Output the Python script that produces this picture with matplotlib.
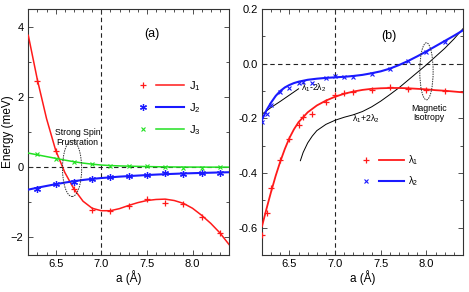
import matplotlib
matplotlib.use("Agg")
import matplotlib.pyplot as plt
from matplotlib.legend_handler import HandlerTuple
from matplotlib.patches import Ellipse
from matplotlib.ticker import MultipleLocator, FormatStrFormatter

plt.rcParams['font.family'] = ['Liberation Sans', 'DejaVu Sans']
plt.rcParams['mathtext.fontset'] = 'custom'
plt.rcParams['mathtext.rm'] = 'Liberation Sans'
plt.rcParams['mathtext.it'] = 'Liberation Sans:italic'

# ---------------- panel (a) data ----------------
a_pts = [6.3, 6.5, 6.7, 6.9, 7.1, 7.3, 7.5, 7.7, 7.9, 8.1, 8.3]
J1_pts = [2.45, 0.45, -0.63, -1.22, -1.24, -1.11, -0.92, -1.03, -1.05, -1.41, -1.88]
J2_pts = [-0.61, -0.47, -0.42, -0.34, -0.28, -0.25, -0.23, -0.18, -0.19, -0.16, -0.18]
J3_pts = [0.36, 0.24, 0.14, 0.085, 0.04, 0.03, 0.03, 0.01, -0.02, -0.02, 0.0]

a_fit = [6.2, 6.3, 6.4, 6.5, 6.6, 6.7, 6.8, 6.9, 7.0, 7.1, 7.2, 7.3,
         7.4, 7.5, 7.6, 7.7, 7.8, 7.9, 8.0, 8.1, 8.2, 8.3, 8.4]
J1_fit = [3.75, 2.48, 1.38, 0.48, -0.15, -0.62, -0.97, -1.17, -1.24, -1.24, -1.18, -1.09,
          -1.01, -0.95, -0.92, -0.91, -0.95, -1.03, -1.17, -1.37, -1.6, -1.87, -2.2]
J2_fit = [-0.64, -0.585, -0.535, -0.485, -0.44, -0.4, -0.365, -0.335, -0.31, -0.29, -0.27, -0.255,
          -0.24, -0.225, -0.212, -0.2, -0.19, -0.18, -0.172, -0.165, -0.158, -0.151, -0.145]
J3_fit = [0.4, 0.35, 0.3, 0.25, 0.2, 0.155, 0.115, 0.085, 0.06, 0.045, 0.035, 0.028,
          0.022, 0.017, 0.012, 0.008, 0.005, 0.003, 0.002, 0.001, 0.0, 0.0, 0.0]

# ---------------- panel (b) data ----------------
b_pts = [6.2, 6.25, 6.3, 6.4, 6.5, 6.6, 6.65, 6.75, 6.9, 7.0, 7.1, 7.2, 7.4, 7.6, 7.8, 8.0, 8.2]
lam1_pts = [-0.627, -0.545, -0.455, -0.352, -0.274, -0.226, -0.195, -0.183, -0.139, -0.115,
            -0.109, -0.105, -0.095, -0.087, -0.094, -0.095, -0.099]
lam2_pts = [-0.215, -0.183, -0.153, -0.105, -0.089, -0.069, -0.068, -0.069, -0.054, -0.045,
            -0.047, -0.048, -0.036, -0.021, 0.01, 0.043, 0.08]

b_fit = [6.2, 6.25, 6.3, 6.35, 6.4, 6.45, 6.5, 6.55, 6.6, 6.7, 6.8, 6.9, 7.0, 7.1,
         7.2, 7.3, 7.4, 7.5, 7.6, 7.7, 7.8, 7.9, 8.0, 8.1, 8.2, 8.3, 8.4]
lam1_fit = [-0.595, -0.53, -0.468, -0.41, -0.358, -0.312, -0.272, -0.24, -0.214, -0.178,
            -0.153, -0.135, -0.121, -0.11, -0.102, -0.096, -0.092, -0.09, -0.089, -0.089,
            -0.09, -0.092, -0.094, -0.097, -0.099, -0.102, -0.105]
lam2_fit = [-0.205, -0.17, -0.142, -0.118, -0.1, -0.087, -0.078, -0.071, -0.066, -0.059,
            -0.055, -0.052, -0.05, -0.048, -0.045, -0.041, -0.035, -0.028, -0.018, -0.005,
            0.01, 0.027, 0.045, 0.064, 0.083, 0.102, 0.122]

minus_x = [6.2, 6.3, 6.4, 6.5, 6.6]
minus_y = [-0.185, -0.16, -0.138, -0.115, -0.092]
plus_x = [6.62, 6.65, 6.7, 6.75, 6.8, 6.9, 7.0, 7.1, 7.2, 7.3, 7.4, 7.5, 7.6, 7.7,
          7.8, 7.9, 8.0, 8.1, 8.2, 8.3, 8.4]
plus_y = [-0.355, -0.325, -0.29, -0.265, -0.245, -0.222, -0.207, -0.196, -0.187, -0.175,
          -0.158, -0.137, -0.113, -0.088, -0.06, -0.032, -0.004, 0.026, 0.056, 0.09, 0.128]

RED, BLUE, GREEN = '#ff1a1a', '#1a1aff', '#22e022'
TICK_FS = 8

fig = plt.figure(figsize=(4.69, 2.92), dpi=100)
axA = fig.add_axes([28.3 / 469, 37 / 292, 200.7 / 469, 246 / 292])
axB = fig.add_axes([262 / 469, 37 / 292, 201 / 469, 246 / 292])


def style(ax):
    ax.set_xlim(6.2, 8.4)
    ax.xaxis.set_major_locator(MultipleLocator(0.5))
    ax.xaxis.set_minor_locator(MultipleLocator(0.1))
    ax.tick_params(which='both', direction='in', top=True, right=True,
                   labelsize=TICK_FS, width=0.6, color='#333333', pad=3)
    ax.tick_params(which='major', length=3.5)
    ax.tick_params(which='minor', length=2)
    for s in ax.spines.values():
        s.set_linewidth(0.8)
        s.set_color('#333333')
    ax.axvline(7.0, color='#222222', ls=(0, (4, 3)), lw=0.8, zorder=1)
    ax.axhline(0.0, color='#222222', ls=(0, (4, 3)), lw=0.8, zorder=1)
    ax.set_xlabel('a (Å)', fontsize=8.5, labelpad=1)


# ---------------- panel (a) ----------------
style(axA)
axA.set_ylim(-2.5, 4.5)
axA.set_yticks([-2, 0, 2, 4])
axA.yaxis.set_minor_locator(MultipleLocator(1))
axA.tick_params(axis='y', pad=3.5)
axA.set_ylabel('Energy (meV)', fontsize=8.5)
axA.yaxis.set_label_coords(-0.072, 0.5)

lJ1, = axA.plot(a_fit, J1_fit, color=RED, lw=1.1, zorder=3)
lJ2, = axA.plot(a_fit, J2_fit, color=BLUE, lw=1.5, zorder=3)
lJ3, = axA.plot(a_fit, J3_fit, color=GREEN, lw=1.1, zorder=3)
mJ1, = axA.plot(a_pts, J1_pts, ls='none', marker='+', ms=5, mew=0.9, color=RED, zorder=4)
mJ2, = axA.plot(a_pts, J2_pts, ls='none', marker=(6, 2, 0), ms=5, mew=0.9, color=BLUE, zorder=4)
mJ3, = axA.plot(a_pts, J3_pts, ls='none', marker='x', ms=3.5, mew=0.8, color=GREEN, zorder=4)

axA.text(7.56, 3.8, '(a)', fontsize=9, ha='center', va='center')
axA.text(6.74, 0.85, 'Strong Spin\nFrustration', fontsize=6.3, ha='center', va='center',
         linespacing=1.1)
axA.add_patch(Ellipse((6.68, -0.04), 0.21, 1.59, fill=False, ls=(0, (1.5, 1)),
                      lw=0.7, ec='#333333', zorder=5))

axA.legend([(mJ1, lJ1), (mJ2, lJ2), (mJ3, lJ3)],
           ['J$_1$', 'J$_2$', 'J$_3$'],
           handler_map={tuple: HandlerTuple(ndivide=None, pad=0.0)},
           loc='upper left', bbox_to_anchor=(0.50, 0.715), frameon=False,
           handlelength=5.0, handletextpad=0.4, labelspacing=0.75,
           fontsize=8, borderpad=0, borderaxespad=0)

# ---------------- panel (b) ----------------
style(axB)
axB.set_ylim(-0.7, 0.2)
axB.yaxis.set_major_locator(MultipleLocator(0.2))
axB.yaxis.set_minor_locator(MultipleLocator(0.1))
axB.yaxis.set_major_formatter(FormatStrFormatter('%.1f'))

l1, = axB.plot(b_fit, lam1_fit, color=RED, lw=1.3, zorder=3)
l2, = axB.plot(b_fit, lam2_fit, color=BLUE, lw=1.5, zorder=3)
m1, = axB.plot(b_pts, lam1_pts, ls='none', marker='+', ms=5, mew=0.9, color=RED, zorder=4)
m2, = axB.plot(b_pts, lam2_pts, ls='none', marker='x', ms=3.2, mew=0.8, color=BLUE, zorder=4)
axB.plot(minus_x, minus_y, color='black', lw=0.7, zorder=2)
axB.plot(plus_x, plus_y, color='black', lw=0.7, zorder=2)

axB.text(7.585, 0.1, '(b)', fontsize=9, ha='center', va='center')
axB.text(6.63, -0.088, 'λ$_1$-2λ$_2$', fontsize=6.3, ha='left', va='center')
axB.text(7.19, -0.2, 'λ$_1$+2λ$_2$', fontsize=6.3, ha='left', va='center')
axB.text(8.03, -0.18, 'Magnetic\nIsotropy', fontsize=6.3, ha='center', va='center',
         linespacing=1.1)
axB.add_patch(Ellipse((8.0, -0.028), 0.146, 0.209, fill=False, ls=(0, (1.5, 1)),
                      lw=0.7, ec='#333333', zorder=5))

axB.legend([(m1, l1), (m2, l2)], ['λ$_1$', 'λ$_2$'],
           handler_map={tuple: HandlerTuple(ndivide=None, pad=0.0)},
           loc='upper left', bbox_to_anchor=(0.455, 0.415), frameon=False,
           handlelength=5.2, handletextpad=0.4, labelspacing=0.75,
           fontsize=7, borderpad=0, borderaxespad=0)

fig.savefig('out.png', dpi=100)
